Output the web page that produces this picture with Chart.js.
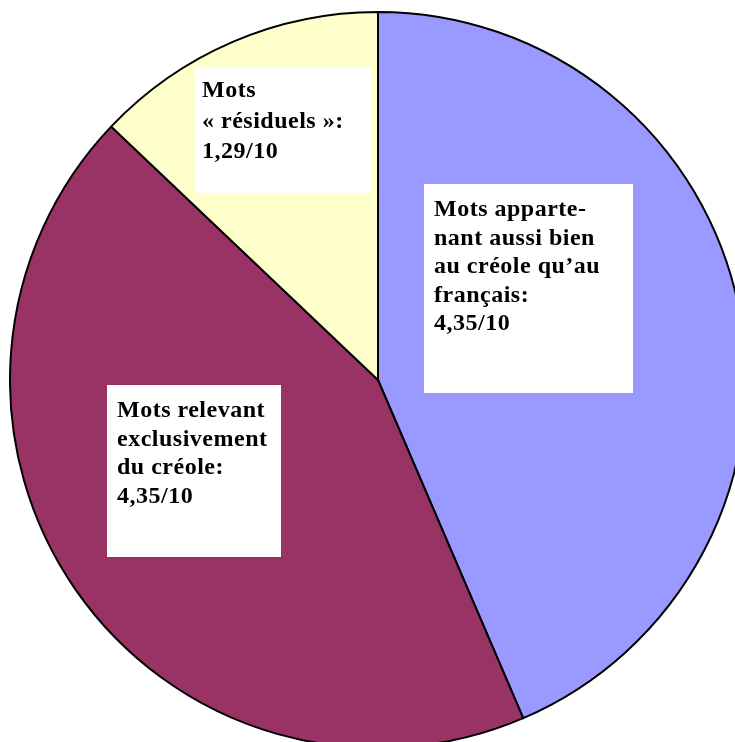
<!DOCTYPE html>
<html>
<head>
<meta charset="utf-8">
<script src="https://cdn.jsdelivr.net/npm/chart.js@4/dist/chart.umd.min.js"></script>
<style>
  html, body { margin: 0; padding: 0; background: #ffffff; overflow: hidden; width: 735px; height: 742px; }
  #wrap { position: absolute; left: 9px; top: 11px; width: 738px; height: 738px; }
</style>
</head>
<body>
<div id="wrap"><canvas id="c"></canvas></div>
<script>
// ---- Data ----
const categories = [
  "Mots appartenant aussi bien au créole qu'au français",
  "Mots relevant exclusivement du créole",
  "Mots « résiduels »"
];
const values = [4.35, 4.35, 1.29];
const sliceColors = ["#9999FF", "#993366", "#FFFFCC"];
const labelLines = [
  ["Mots apparte-", "nant aussi bien", "au créole qu\u2019au", "français:", "4,35/10"],
  ["Mots relevant", "exclusivement", "du créole:", "4,35/10"],
  ["Mots", "« résiduels »:", "1,29/10"]
];

// label boxes, offsets relative to the pie centre (px)
const boxLayout = [
  { x: 46, y: -196, w: 209, h: 209, tx: 10, ty: 32, lh: 28.6 },
  { x: -271, y: 5, w: 174, h: 172, tx: 10, ty: 32, lh: 28.5 },
  { x: -183, y: -312, w: 176, h: 125, tx: 7, ty: 29, lh: 30.5 }
];

const boxPlugin = {
  id: 'boxLabels',
  afterDatasetsDraw(chart) {
    const ctx = chart.ctx;
    const arc = chart.getDatasetMeta(0).data[0];
    const cx = arc.x, cy = arc.y;
    ctx.save();
    ctx.font = 'bold 24px "Liberation Serif", "Times New Roman", serif';
    if ('letterSpacing' in ctx) ctx.letterSpacing = '0.5px';
    ctx.textBaseline = 'alphabetic';
    ctx.textAlign = 'left';
    labelLines.forEach((lines, i) => {
      const b = boxLayout[i];
      ctx.fillStyle = '#ffffff';
      ctx.fillRect(cx + b.x, cy + b.y, b.w, b.h);
      ctx.fillStyle = '#000000';
      lines.forEach((t, j) => {
        ctx.fillText(t, cx + b.x + b.tx, cy + b.y + b.ty + j * b.lh);
      });
    });
    ctx.restore();
  }
};

new Chart(document.getElementById('c'), {
  type: 'pie',
  data: {
    labels: categories,
    datasets: [{
      data: values,
      backgroundColor: sliceColors,
      borderColor: '#000000',
      borderWidth: 2,
      borderJoinStyle: 'miter'
    }]
  },
  options: {
    responsive: true,
    maintainAspectRatio: false,
    animation: false,
    layout: { padding: 0 },
    plugins: {
      legend: { display: false },
      tooltip: { enabled: false },
      title: { display: false }
    }
  },
  plugins: [boxPlugin]
});
</script>
</body>
</html>
